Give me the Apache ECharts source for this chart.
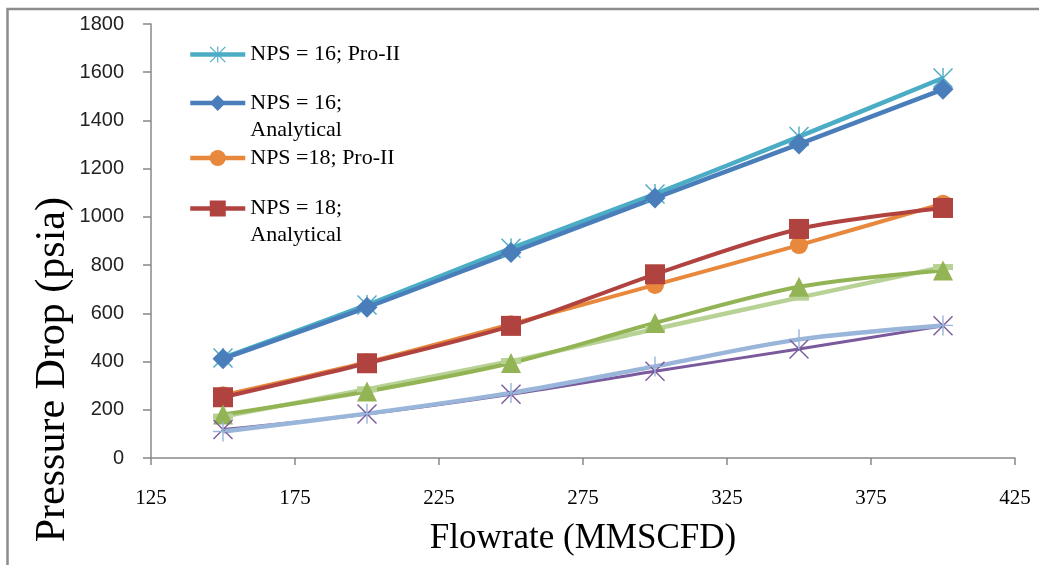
<!DOCTYPE html>
<html>
<head>
<meta charset="utf-8">
<script src="https://cdn.jsdelivr.net/npm/echarts@6/dist/echarts.min.js"></script>
<style>html,body{margin:0;padding:0;background:#fff;}#c{width:1039px;height:565px;}</style>
</head>
<body>
<div id="c"></div>
<script>
// ---- data ----
const flowrates = [150, 200, 250, 300, 350, 400];
const xTicks = [125, 175, 225, 275, 325, 375, 425];
const yTicks = [0, 200, 400, 600, 800, 1000, 1200, 1400, 1600, 1800];
const nps16ProII = [415, 635, 870, 1095, 1333, 1576];
const nps16Analytical = [412, 625, 852, 1078, 1302, 1529];
const nps18ProII = [260, 397, 555, 718, 883, 1055];
const nps18Analytical = [252, 393, 548, 762, 950, 1037];
const series5 = [172, 285, 402, 535, 665, 792];
const series6 = [180, 276, 394, 560, 710, 778];
const series7 = [110, 184, 270, 380, 492, 550];
const series8 = [118, 182, 264, 360, 452, 548];

const legendNames = ['NPS = 16; Pro-II', 'NPS = 16;\nAnalytical', 'NPS =18; Pro-II', 'NPS = 18;\nAnalytical'];

// ---- symbols ----
const P_ASTER = 'path://M0,1 L1,0 L20,19 L19,20 Z M19,0 L20,1 L1,20 L0,19 Z M9.3,0 L10.7,0 L10.7,20 L9.3,20 Z';
const P_X = 'path://M0,1 L1,0 L20,19 L19,20 Z M19,0 L20,1 L1,20 L0,19 Z';
const P_PLUS = 'path://M9.3,0 L10.7,0 L10.7,20 L9.3,20 Z M0,9.3 L20,9.3 L20,10.7 L0,10.7 Z';

function pts(arr) { return flowrates.map((x, i) => [x, arr[i]]); }

function line(name, arr, color, symbol, size, width) {
  return {
    type: 'line', name: name, data: pts(arr), smooth: 0.3,
    symbol: symbol, symbolSize: size, showSymbol: true,
    lineStyle: { color: color, width: width },
    itemStyle: { color: color, borderWidth: 0 },
    emphasis: { disabled: true }, animation: false
  };
}

const serif = 'Liberation Serif';
const chart = echarts.init(document.getElementById('c'));

function legendAt(name, top, twoLine) {
  return {
    data: [name],
    left: 188, top: top, orient: 'vertical', padding: 0,
    itemWidth: 55, itemHeight: 20, itemGap: 0,
    formatter: twoLine ? (n => '\u00a0\n' + n) : (n => n),
    lineStyle: { width: 4.5 },
    textStyle: { fontFamily: serif, fontSize: 22, color: '#000', lineHeight: 27 },
    selectedMode: false
  };
}

chart.setOption({
  backgroundColor: '#fff',
  animation: false,
  grid: { left: 151, right: 24, top: 24, bottom: 107, containLabel: false },
  xAxis: {
    type: 'value', min: xTicks[0], max: xTicks[xTicks.length - 1], interval: 50,
    name: 'Flowrate (MMSCFD)', nameLocation: 'middle', nameGap: 63,
    nameTextStyle: { fontFamily: serif, fontSize: 35, color: '#000' },
    axisLine: { lineStyle: { color: '#888', width: 1.5 } },
    axisTick: { show: true, length: 7, lineStyle: { color: '#888', width: 1.5 } },
    axisLabel: { margin: 30, fontFamily: serif, fontSize: 21, color: '#000' },
    splitLine: { show: false }
  },
  yAxis: {
    type: 'value', min: yTicks[0], max: yTicks[yTicks.length - 1], interval: 200,
    axisLine: { show: true, lineStyle: { color: '#888', width: 1.5 } },
    axisTick: { show: true, length: 8, lineStyle: { color: '#888', width: 1.5 } },
    axisLabel: { margin: 27, fontFamily: 'Liberation Sans', fontSize: 20, color: '#222',
                 formatter: v => String(v) },
    splitLine: { show: false }
  },
  legend: [
    legendAt(legendNames[0], 41, false),
    legendAt(legendNames[1], 62.5, true),
    legendAt(legendNames[2], 144.5, false),
    legendAt(legendNames[3], 168, true)
  ],
  graphic: [
    { type: 'polyline', silent: true, z: 100,
      shape: { points: [[7.5, 565], [7.5, 9], [1039, 9]] },
      style: { stroke: '#8c8c8c', lineWidth: 2.5, fill: null } },
    { type: 'text', silent: true, x: 53, y: 197, rotation: Math.PI / 2,
      style: { text: 'Pressure Drop (psia)', fontFamily: serif, fontSize: 42, fill: '#000',
               align: 'right', verticalAlign: 'middle' } }
  ],
  series: [
    line(legendNames[0], nps16ProII, '#4bacc6', P_ASTER, 20, 4.5),
    line(legendNames[1], nps16Analytical, '#4a7ebb', 'diamond', 21, 4.5),
    line(legendNames[2], nps18ProII, '#e8883c', 'circle', 18, 4),
    line(legendNames[3], nps18Analytical, '#b0433f', 'rect', 20, 4),
    line('Series 5', series5, '#b8d296', 'rect', [20, 6], 4.5),
    line('Series 6', series6, '#93b455', 'triangle', 20, 4),
    line('Series 8', series8, '#7a5a9c', P_X, 20, 3),
    line('Series 7', series7, '#9ab5da', P_PLUS, 20, 4.5)
  ]
});
</script>
</body>
</html>
